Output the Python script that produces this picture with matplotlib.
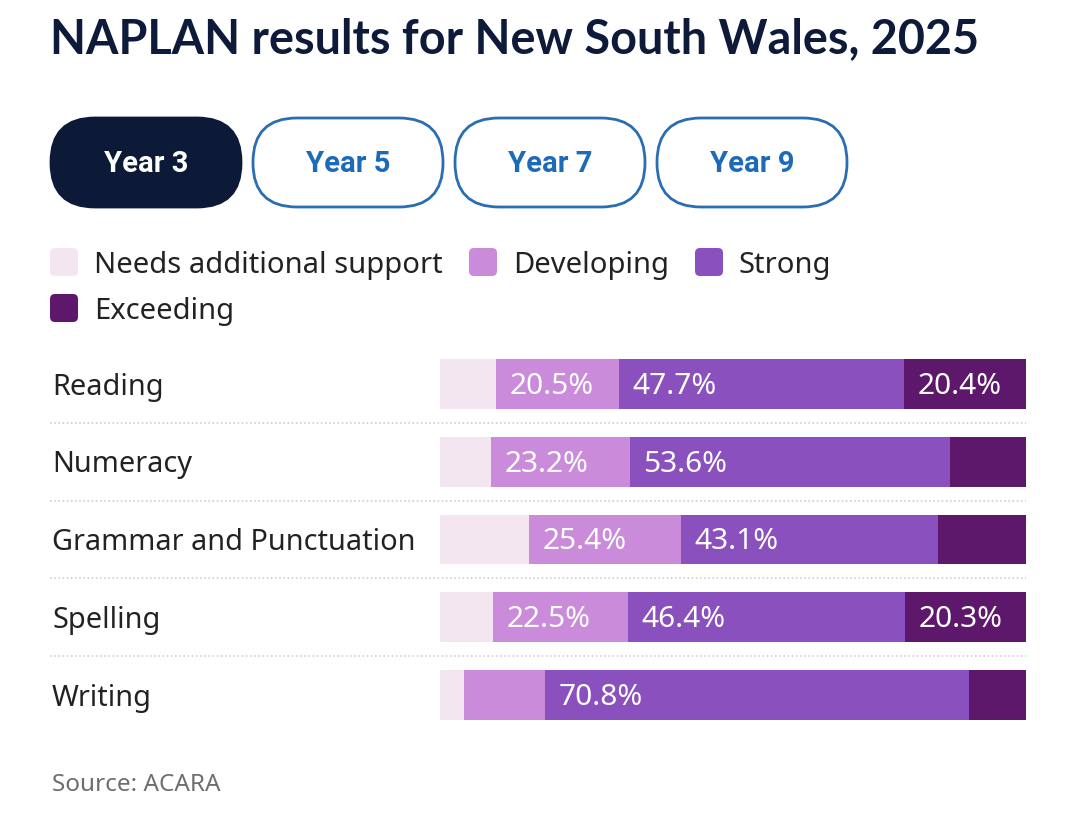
import numpy as np
import matplotlib
matplotlib.use("Agg")
from matplotlib import pyplot as plt
from matplotlib.patches import FancyBboxPatch

# data (percent of students, rows do not quite sum to 100)
subjects = ['Reading', 'Numeracy', 'Grammar and Punctuation', 'Spelling', 'Writing']
needs = [9.4, 8.5, 14.9, 8.9, 4.0]
developing = [20.5, 23.2, 25.4, 22.5, 13.5]
strong = [47.7, 53.6, 43.1, 46.4, 70.8]
exceeding = [20.4, 12.7, 14.7, 20.3, 9.5]
levels = ['Needs additional support', 'Developing', 'Strong', 'Exceeding']
colors = ['#f3e6f1', '#c98bda', '#8a50be', '#5d186c']
years = ['Year 3', 'Year 5', 'Year 7', 'Year 9']

FONT = 'Noto Sans'
W, H = 1080, 814
fig = plt.figure(figsize=(W / 100, H / 100), dpi=100)
fig.patch.set_facecolor('white')

# overlay in pixel coords for the title, buttons and legend
bg = fig.add_axes([0, 0, 1, 1])
bg.set_xlim(0, W)
bg.set_ylim(H, 0)
bg.axis('off')

bg.text(50, 39, 'NAPLAN results for New South Wales, 2025', fontsize=33.7,
        fontweight='bold', color='#0d1a3a', family='Lato', va='center', ha='left')

# year buttons
for i, yr in enumerate(years):
    x0 = 50 + i * 202
    active = i == 0
    box = FancyBboxPatch((x0 + 1, 118), 190, 89,
                         boxstyle='round,pad=0,rounding_size=44',
                         facecolor='#0c1a37' if active else 'white',
                         edgecolor='#0c1a37' if active else '#2a6db0', linewidth=2)
    bg.add_patch(box)
    bg.text(x0 + 96, 164, yr, fontsize=21, fontweight='bold', family='Roboto',
            color='white' if active else '#1d6ab9', ha='center', va='center')

# legend
leg_pos = [(50, 262), (469, 262), (695, 262), (50, 308)]
for (lx, ly), lab, c in zip(leg_pos, levels, colors):
    bg.add_patch(FancyBboxPatch((lx, ly - 14), 28, 28,
                                boxstyle='round,pad=0,rounding_size=5',
                                facecolor=c, edgecolor='none'))
    bg.text(lx + 44, ly + 3, lab, fontsize=21, family=FONT, color='#222222',
            va='center', ha='left')

bg.text(52, 785, 'Source: ACARA', fontsize=17.5, family=FONT, color='#6e6e6e',
        va='center', ha='left')

# stacked bars
ax = fig.add_axes([440 / W, (H - 734) / H, 586 / W, 389 / H])
ax.set_xlim(0, 100)
ax.set_ylim(len(subjects) - 0.5, -0.5)
ax.axis('off')

data = np.array([needs, developing, strong, exceeding])
shares = data / data.sum(axis=0) * 100
y = np.arange(len(subjects))
left = np.zeros(len(subjects))
for k in range(len(levels)):
    ax.barh(y, shares[k], left=left, height=0.64, color=colors[k], linewidth=0)
    for j in range(len(subjects)):
        if data[k, j] >= 20:
            ax.text(left[j] + 2.3, y[j] + 0.03, f'{data[k, j]:.1f}%', color='white',
                    fontsize=21.5, family=FONT, va='center', ha='left')
    left += shares[k]

for j, s in enumerate(subjects):
    ax.text(-66.2, y[j] + 0.04, s, fontsize=20.8, family=FONT, color='#222222',
            va='center', ha='left', clip_on=False)

for j in range(len(subjects) - 1):
    ax.axhline(j + 0.5, xmin=-0.665, xmax=1, color='#cfcfcf', linewidth=1.2,
               linestyle=(0, (1, 1.5)), clip_on=False)

fig.savefig('out.png', dpi=100, facecolor='white')
